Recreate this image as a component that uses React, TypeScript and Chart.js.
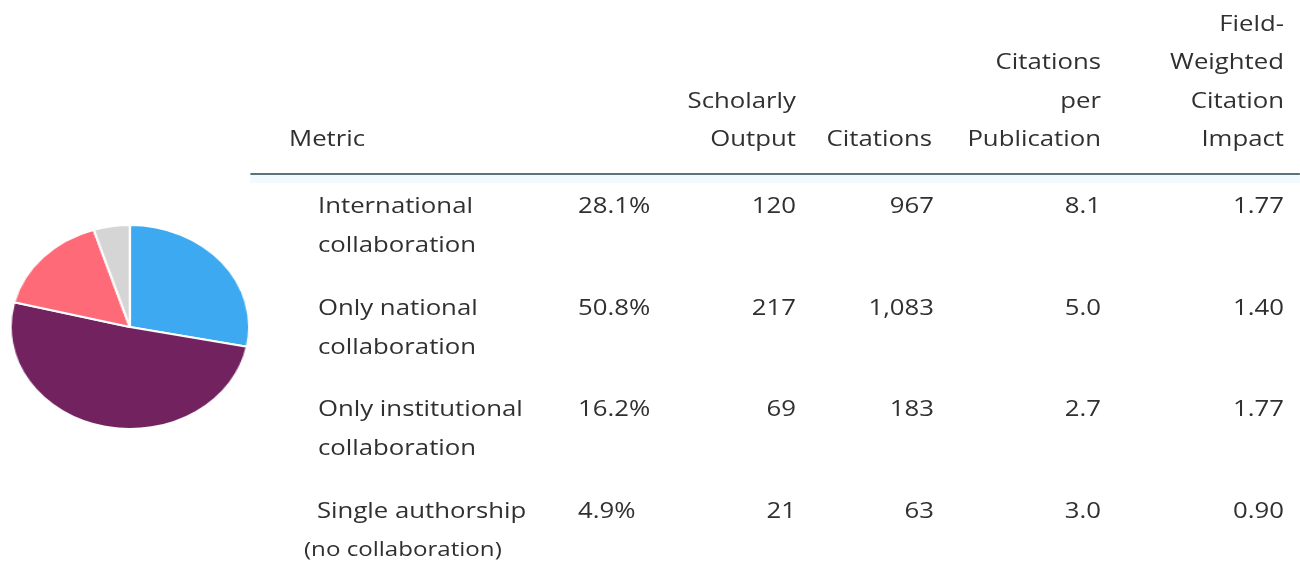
import React, { useEffect, useRef } from "react";
import { Chart, registerables } from "chart.js";

Chart.register(...registerables);

// ---- data ----
const categories = [
  "International collaboration",
  "Only national collaboration",
  "Only institutional collaboration",
  "Single authorship (no collaboration)",
];
const labelLines = [
  ["International", "collaboration"],
  ["Only national", "collaboration"],
  ["Only institutional", "collaboration"],
  ["Single authorship", "(no collaboration)"],
];
const shares = [28.1, 50.8, 16.2, 4.9];
const scholarlyOutput = [120, 217, 69, 21];
const citations = [967, 1083, 183, 63];
const citationsPerPublication = [8.1, 5.0, 2.7, 3.0];
const fieldWeightedCitationImpact = [1.77, 1.4, 1.77, 0.9];
const sliceColors = ["#3DA9F0", "#72225E", "#FF6A78", "#D5D5D5"];

const headerMetric = ["Metric"];
const headerOutput = ["Scholarly", "Output"];
const headerCitations = ["Citations"];
const headerCpp = ["Citations", "per", "Publication"];
const headerFwci = ["Field-", "Weighted", "Citation", "Impact"];

// ---- layout (inner coordinates; whole view stretched horizontally) ----
const SX = 1.17;
const ix = (x: number) => x / SX;
const FONT = "'Open Sans', sans-serif";
const LH = 38;
const TEXT_COLOR = "#303030";

function T({
  x,
  y,
  text,
  align = "left",
  fontStyle,
}: {
  x: number;
  y: number;
  text: string;
  align?: "left" | "right";
  fontStyle?: React.CSSProperties;
}) {
  const w = 400;
  const style: React.CSSProperties = {
    position: "absolute",
    top: y - 20,
    left: align === "left" ? ix(x) : ix(x) - w,
    width: w,
    textAlign: align,
    fontFamily: FONT,
    fontSize: 22,
    lineHeight: LH + "px",
    color: TEXT_COLOR,
    whiteSpace: "nowrap",
    ...fontStyle,
  };
  return <div style={style}>{text}</div>;
}

function HeaderBlock({ lines, x, align }: { lines: string[]; x: number; align: "left" | "right" }) {
  const bottom = 138;
  const n = lines.length;
  return (
    <>
      {lines.map((l, i) => (
        <T key={i} x={x} y={bottom - (n - 1 - i) * 38.3} text={l} align={align} />
      ))}
    </>
  );
}

const rowY = [205, 307, 408, 510];
const secondLineDy = 38.5;

export default function App() {
  const canvasRef = useRef<HTMLCanvasElement | null>(null);

  useEffect(() => {
    document.body.style.margin = "0";
    const canvas = canvasRef.current;
    if (!canvas) return;
    const chart = new Chart(canvas, {
      type: "pie",
      data: {
        labels: categories,
        datasets: [
          {
            data: shares,
            backgroundColor: sliceColors,
            borderColor: "#ffffff",
            borderWidth: 2,
          },
        ],
      },
      options: {
        animation: false,
        responsive: false,
        maintainAspectRatio: false,
        layout: { padding: 0 },
        plugins: {
          legend: { display: false },
          tooltip: { enabled: false },
          title: { display: false },
        },
      },
    });
    return () => chart.destroy();
  }, []);

  const pieCx = ix(130);
  const pieCy = 327;
  const size = 206;

  return (
    <div
      style={{
        position: "fixed",
        left: 0,
        top: 0,
        width: 1300,
        height: 565,
        overflow: "hidden",
        background: "#ffffff",
      }}
    >
      <div
        style={{
          position: "absolute",
          left: 0,
          top: 0,
          width: 1300 / SX,
          height: 565,
          transform: `scaleX(${SX})`,
          transformOrigin: "0 0",
        }}
      >
        <canvas
          ref={canvasRef}
          width={size}
          height={size}
          style={{
            position: "absolute",
            left: pieCx - size / 2,
            top: pieCy - size / 2,
            width: size,
            height: size,
          }}
        />

        {/* header */}
        <HeaderBlock lines={headerMetric} x={289} align="left" />
        <HeaderBlock lines={headerOutput} x={796} align="right" />
        <HeaderBlock lines={headerCitations} x={932} align="right" />
        <HeaderBlock lines={headerCpp} x={1101} align="right" />
        <HeaderBlock lines={headerFwci} x={1284} align="right" />

        {/* header rule */}
        <div
          style={{
            position: "absolute",
            left: ix(250),
            top: 173,
            width: ix(1300) - ix(250),
            height: 2,
            background: "#5E727C",
          }}
        />
        <div
          style={{
            position: "absolute",
            left: ix(250),
            top: 175,
            width: ix(1300) - ix(250),
            height: 8,
            background: "#F1FBFD",
          }}
        />

        {/* rows */}
        {categories.map((_, i) => (
          <React.Fragment key={i}>
            <T x={i === 3 ? 317 : 318} y={rowY[i]} text={labelLines[i][0]} />
            <T
              x={i === 3 ? 304 : 318}
              y={rowY[i] + secondLineDy}
              text={labelLines[i][1]}
              fontStyle={i === 3 ? { fontSize: 20.6 } : undefined}
            />
            <T x={578} y={rowY[i]} text={shares[i].toFixed(1) + "%"} />
            <T x={796} y={rowY[i]} text={String(scholarlyOutput[i])} align="right" />
            <T x={934} y={rowY[i]} text={citations[i].toLocaleString("en-US")} align="right" />
            <T x={1101} y={rowY[i]} text={citationsPerPublication[i].toFixed(1)} align="right" />
            <T x={1284} y={rowY[i]} text={fieldWeightedCitationImpact[i].toFixed(2)} align="right" />
          </React.Fragment>
        ))}
      </div>
    </div>
  );
}
